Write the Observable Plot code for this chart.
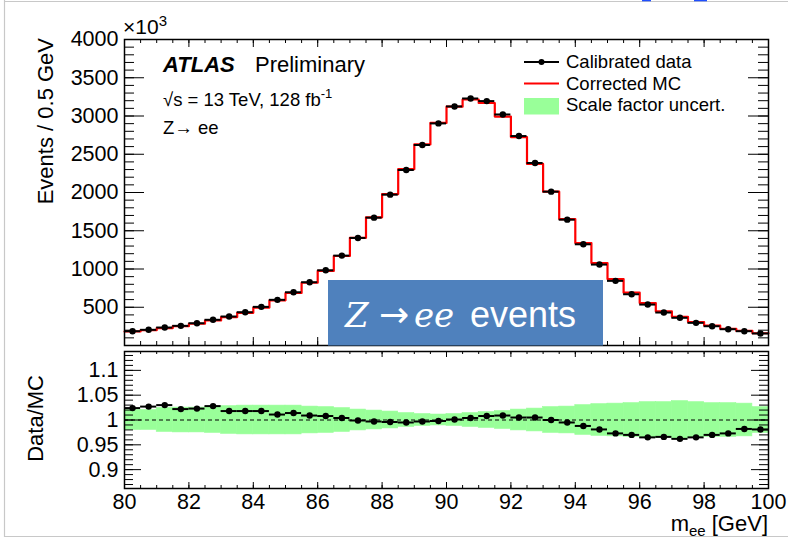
<!DOCTYPE html>
<html><head><meta charset="utf-8">
<script src="https://cdn.jsdelivr.net/npm/d3@7"></script>
<script src="https://cdn.jsdelivr.net/npm/@observablehq/plot@0.6"></script>
<style>
body{margin:0;background:#fff;}
#wrap{position:relative;width:788px;height:539px;overflow:hidden;font-family:"Liberation Sans",Arial,Helvetica,sans-serif;}
#top,#bot,#ov{position:absolute;left:0;}
#top{top:0}
#bot{top:348px}
#ov{top:0;pointer-events:none}
</style></head><body>
<div id="wrap"><div id="top"></div><div id="bot"></div>
<svg id="ov" width="788" height="539" font-family='"Liberation Sans", Arial, Helvetica, sans-serif'>
  <line x1="4.5" y1="0" x2="4.5" y2="537" stroke="#c8c8c8" stroke-width="1.2"/>
  <line x1="4" y1="1.5" x2="788" y2="1.5" stroke="#c8c8c8" stroke-width="1.2"/>
  <line x1="4" y1="536.5" x2="788" y2="536.5" stroke="#c8c8c8" stroke-width="1.2"/>
  <rect x="642" y="0" width="9" height="1.3" fill="#1f4fff"/>
  <rect x="694" y="0" width="13" height="1.3" fill="#1f4fff"/>
  <text x="123" y="34" font-size="21">×10<tspan font-size="15" dy="-8">3</tspan></text>
  <text x="163" y="71.5" font-size="22" font-weight="bold" font-style="italic">ATLAS</text>
  <text x="255" y="71.5" font-size="22">Preliminary</text>
  <text x="163" y="106" font-size="18.5">√s = 13 TeV, 128 fb<tspan font-size="13" dy="-8">-1</tspan></text>
  <text x="163" y="133.5" font-size="18.5">Z→ ee</text>
  <line x1="524" y1="62" x2="559" y2="62" stroke="#000" stroke-width="2"/>
  <circle cx="541.5" cy="62" r="3" fill="#000"/>
  <text x="566" y="67.5" font-size="18.5">Calibrated data</text>
  <line x1="524" y1="83.5" x2="559" y2="83.5" stroke="#ff0000" stroke-width="2"/>
  <text x="566" y="89.5" font-size="18.5">Corrected MC</text>
  <rect x="524" y="98" width="35" height="16.5" fill="#99ff99"/>
  <text x="566" y="111" font-size="18.5">Scale factor uncert.</text>
  <text transform="translate(53,38) rotate(-90)" text-anchor="end" font-size="22">Events / 0.5 GeV</text>
  <text transform="translate(43,375) rotate(-90)" text-anchor="end" font-size="22">Data/MC</text>
  <text x="768" y="531" text-anchor="end" font-size="22">m<tspan font-size="15" dy="5">ee</tspan><tspan dy="-5"> [GeV]</tspan></text>
  <rect x="328" y="280" width="275" height="65.5" fill="#4f81bd"/>
  <text y="327" fill="#fff"><tspan x="345" font-family="'DejaVu Serif', serif" font-style="italic" font-size="34">Z</tspan><tspan x="379" font-family="'DejaVu Sans', sans-serif" font-size="36">→</tspan><tspan x="414" font-family="'DejaVu Serif', serif" font-style="italic" font-size="34">ee</tspan><tspan x="470" font-size="36">events</tspan></text>
</svg>
</div>
<script>
// bins: low edges (GeV), 0.5 GeV wide
const binLow = [80,80.5,81,81.5,82,82.5,83,83.5,84,84.5,85,85.5,86,86.5,87,87.5,88,88.5,89,89.5,
                90,90.5,91,91.5,92,92.5,93,93.5,94,94.5,95,95.5,96,96.5,97,97.5,98,98.5,99,99.5];
// Calibrated data, events / 0.5 GeV (x10^3)
const dataEvents = [187,205,235,257,291,336,379,435,505,597,696,827,983,1175,1406,1671,1972,2294,2621,2903,
                    3125,3229,3195,3020,2738,2386,2011,1645,1323,1058,845,670,535,431,362,296,252,213,187,157];
// Corrected MC (x10^3)
const mcEvents = [183,200,228,252,284,327,372,427,496,590,686,820,975,1170,1407,1676,1980,2305,2629,2909,
                  3122,3216,3170,2993,2724,2374,2011,1653,1339,1078,868,691,554,446,376,307,260,219,190,160];
// Data/MC ratio
const ratioValues = [1.024,1.027,1.030,1.022,1.023,1.028,1.018,1.018,1.018,1.011,1.014,1.009,1.008,1.004,0.999,0.997,0.996,0.995,0.997,0.998,
                     1.001,1.004,1.008,1.009,1.005,1.005,1.000,0.995,0.988,0.981,0.973,0.970,0.965,0.966,0.962,0.965,0.970,0.973,0.982,0.981];
// Scale factor uncertainty (half width of band around 1)
const sfUncert = [0.020,0.020,0.024,0.025,0.025,0.026,0.028,0.029,0.029,0.029,0.029,0.027,0.026,0.024,0.021,0.019,0.017,0.014,0.012,0.011,
                  0.012,0.014,0.016,0.018,0.021,0.023,0.026,0.027,0.030,0.032,0.033,0.034,0.036,0.036,0.038,0.036,0.034,0.034,0.033,0.026];
// tick labels
const xTickLabels = [80,82,84,86,88,90,92,94,96,98,100];
const yTopTickLabels = [500,1000,1500,2000,2500,3000,3500,4000];
const ratioTickLabels = [0.9,0.95,1,1.05,1.1];

const rows = binLow.map((lo,i)=>({lo, hi: lo+0.5, c: lo+0.25, data: dataEvents[i], mc: mcEvents[i], ratio: ratioValues[i], unc: sfUncert[i]}));
const stepPts = rows.map(r=>({x:r.lo, y:r.mc})).concat([{x:rows[rows.length-1].hi, y:rows[rows.length-1].mc}]);

const W = 788, ML = 124, MR = 20;
const frameW = W - ML - MR;
const fontFam = '"Liberation Sans", Arial, Helvetica, sans-serif';
const minorX = d3.range(80, 100.001, 0.5);

// ---- top panel ----
const topH = 348, topMT = 39, topMB = 3;
const topFH = topH - topMT - topMB;
const topMinorY = d3.range(0, 4000.1, 100);
const topPlot = Plot.plot({
  width: W, height: topH, marginLeft: ML, marginRight: MR, marginTop: topMT, marginBottom: topMB,
  style: {fontFamily: fontFam, fontSize: "21.5px", color: "#000", background: "transparent", overflow: "visible"},
  x: {domain: [80, 100], axis: null},
  y: {domain: [0, 4000]},
  marks: [
    Plot.line(stepPts, {x: "x", y: "y", curve: "step-after", stroke: "#ff0000", strokeWidth: 2.2}),
    Plot.ruleY(rows, {y: "data", x1: "lo", x2: "hi", stroke: "#000", strokeWidth: 2}),
    Plot.dot(rows, {x: "c", y: "data", r: 3.2, fill: "#000"}),
    Plot.tickX(minorX, {x: d => d, stroke: "#000", insetTop: topFH - 4}),
    Plot.tickX(xTickLabels, {x: d => d, stroke: "#000", insetTop: topFH - 8}),
    Plot.tickX(minorX, {x: d => d, stroke: "#000", insetBottom: topFH - 4}),
    Plot.tickX(xTickLabels, {x: d => d, stroke: "#000", insetBottom: topFH - 8}),
    Plot.tickY(topMinorY, {y: d => d, stroke: "#000", insetRight: frameW - 10}),
    Plot.tickY(yTopTickLabels, {y: d => d, stroke: "#000", insetRight: frameW - 20}),
    Plot.tickY(topMinorY, {y: d => d, stroke: "#000", insetLeft: frameW - 10}),
    Plot.tickY(yTopTickLabels, {y: d => d, stroke: "#000", insetLeft: frameW - 20}),
    Plot.axisY(yTopTickLabels, {anchor: "left", tickSize: 0, tickPadding: 6, label: null, fontSize: 21.5, tickFormat: d => String(d)}),
    Plot.frame({stroke: "#000", strokeWidth: 1.5})
  ]
});
document.getElementById("top").appendChild(topPlot);

// ---- ratio panel ----
const botH = 191, botMT = 3, botMB = 51;
const botFH = botH - botMT - botMB;
const ratioMinorY = d3.range(0.87, 1.135, 0.01);
const botPlot = Plot.plot({
  width: W, height: botH, marginLeft: ML, marginRight: MR, marginTop: botMT, marginBottom: botMB,
  style: {fontFamily: fontFam, fontSize: "21.5px", color: "#000", background: "transparent", overflow: "visible"},
  x: {domain: [80, 100]},
  y: {domain: [0.862, 1.138]},
  marks: [
    Plot.rect(rows, {x1: "lo", x2: "hi", y1: d => 1 - d.unc, y2: d => 1 + d.unc, fill: "#99ff99", stroke: "#99ff99", strokeWidth: 0.6}),
    Plot.ruleY([1], {stroke: "#000", strokeWidth: 1, strokeDasharray: "4,3"}),
    Plot.ruleY(rows, {y: "ratio", x1: "lo", x2: "hi", stroke: "#000", strokeWidth: 2}),
    Plot.dot(rows, {x: "c", y: "ratio", r: 3.2, fill: "#000"}),
    Plot.tickX(minorX, {x: d => d, stroke: "#000", insetTop: botFH - 3}),
    Plot.tickX(xTickLabels, {x: d => d, stroke: "#000", insetTop: botFH - 6}),
    Plot.tickX(minorX, {x: d => d, stroke: "#000", insetBottom: botFH - 3}),
    Plot.tickX(xTickLabels, {x: d => d, stroke: "#000", insetBottom: botFH - 6}),
    Plot.tickY(ratioMinorY, {y: d => d, stroke: "#000", insetRight: frameW - 9}),
    Plot.tickY(ratioTickLabels, {y: d => d, stroke: "#000", insetRight: frameW - 17}),
    Plot.tickY(ratioMinorY, {y: d => d, stroke: "#000", insetLeft: frameW - 9}),
    Plot.tickY(ratioTickLabels, {y: d => d, stroke: "#000", insetLeft: frameW - 17}),
    Plot.axisY(ratioTickLabels, {anchor: "left", tickSize: 0, tickPadding: 6, label: null, fontSize: 21.5, tickFormat: d => String(d)}),
    Plot.axisX(xTickLabels, {anchor: "bottom", tickSize: 0, tickPadding: 5, label: null, fontSize: 21.5, tickFormat: d => String(d)}),
    Plot.frame({stroke: "#000", strokeWidth: 1.5})
  ]
});
document.getElementById("bot").appendChild(botPlot);
</script>
</body></html>
